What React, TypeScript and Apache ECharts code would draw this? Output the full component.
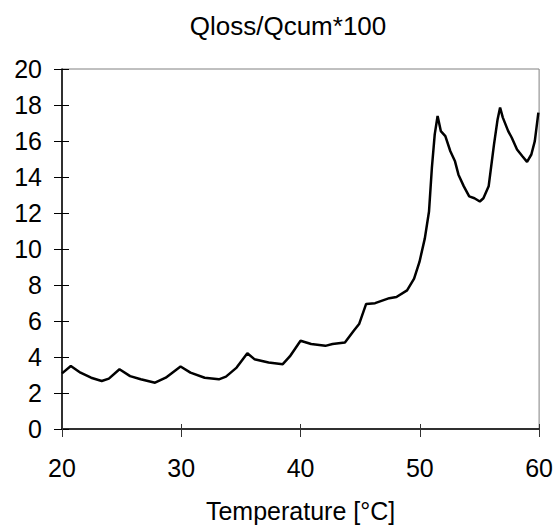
import React, { useEffect, useRef } from "react";
import * as echarts from "echarts";

const temperature = [20, 20.74, 21.55, 22.44, 23.33, 23.93, 24.82, 25.71, 26.6, 27.8, 28.7, 29.94, 30.77, 31.96, 33.15, 33.75, 34.64, 35.54, 36.13, 37.32, 38.51, 39.1, 40.0, 40.89, 42.08, 42.68, 43.72, 44.46, 44.91, 45.5, 46.25, 47.44, 48.04, 48.93, 49.52, 49.97, 50.42, 50.77, 51.01, 51.25, 51.49, 51.76, 52.14, 52.56, 52.95, 53.24, 53.69, 54.14, 54.58, 55.03, 55.33, 55.77, 56.22, 56.52, 56.73, 56.96, 57.41, 57.71, 58.15, 58.6, 58.99, 59.35, 59.64, 59.94];
const qloss = [3.09, 3.5, 3.13, 2.85, 2.67, 2.8, 3.32, 2.94, 2.76, 2.57, 2.85, 3.47, 3.13, 2.85, 2.76, 2.91, 3.41, 4.21, 3.88, 3.69, 3.6, 4.03, 4.9, 4.72, 4.62, 4.72, 4.81, 5.46, 5.83, 6.95, 6.99, 7.27, 7.33, 7.7, 8.35, 9.28, 10.59, 12.08, 14.5, 16.37, 17.39, 16.55, 16.27, 15.43, 14.87, 14.13, 13.48, 12.92, 12.82, 12.64, 12.82, 13.48, 15.81, 17.2, 17.86, 17.3, 16.55, 16.18, 15.53, 15.15, 14.84, 15.25, 15.99, 17.58];
const yTicks = [0, 2, 4, 6, 8, 10, 12, 14, 16, 18, 20];
const xTicks = [20, 30, 40, 50, 60];

export default function App() {
  const ref = useRef<HTMLDivElement>(null);
  useEffect(() => {
    if (!ref.current) return;
    const chart = echarts.init(ref.current, undefined, { renderer: "svg" });
    const font = "Liberation Sans, Arial, sans-serif";
    const data = temperature.map((t, i) => [t, qloss[i]]);
    const xBase = {
      type: "value" as const,
      min: xTicks[0],
      max: xTicks[xTicks.length - 1],
      interval: 10,
      splitLine: { show: false },
    };
    const yBase = {
      type: "value" as const,
      min: yTicks[0],
      max: yTicks[yTicks.length - 1],
      interval: 2,
      splitLine: { show: false },
    };
    chart.setOption({
      animation: false,
      backgroundColor: "#ffffff",
      title: {
        text: "Qloss/Qcum*100",
        left: 283,
        top: 8,
        textAlign: "center",
        textStyle: { fontFamily: font, fontSize: 26, fontWeight: "normal", color: "#000" },
      },
      grid: {
        left: 62,
        right: 16,
        top: 69,
        bottom: 98,
        show: true,
        borderColor: "#808080",
        borderWidth: 1,
        backgroundColor: "transparent",
      },
      xAxis: [
        {
          ...xBase,
          position: "bottom",
          name: "Temperature [°C]",
          nameLocation: "middle",
          nameGap: 69,
          nameTextStyle: { fontFamily: font, fontSize: 25, color: "#000" },
          axisLine: { show: true, lineStyle: { color: "#000", width: 1.5 } },
          axisTick: { show: true, inside: false, length: 8, lineStyle: { color: "#333", width: 1 } },
          axisLabel: { fontFamily: font, fontSize: 25, color: "#000", margin: 26 },
        },
        {
          ...xBase,
          position: "bottom",
          axisLine: { show: false },
          axisTick: { show: true, inside: true, length: 5, lineStyle: { color: "#333", width: 1 } },
          axisLabel: { show: false },
        },
      ],
      yAxis: [
        {
          ...yBase,
          position: "left",
          axisLine: { show: true, lineStyle: { color: "#000", width: 1.5 } },
          axisTick: { show: true, inside: false, length: 8, lineStyle: { color: "#000", width: 1 } },
          axisLabel: { fontFamily: font, fontSize: 25, color: "#000", margin: 20 },
        },
        {
          ...yBase,
          position: "left",
          axisLine: { show: false },
          axisTick: { show: true, inside: true, length: 7, lineStyle: { color: "#000", width: 1 } },
          axisLabel: { show: false },
        },
      ],
      series: [
        {
          type: "line",
          data,
          showSymbol: false,
          smooth: false,
          lineStyle: { color: "#000", width: 2.5 },
          xAxisIndex: 0,
          yAxisIndex: 0,
        },
      ],
    });
    return () => chart.dispose();
  }, []);
  return (
    <div
      ref={ref}
      style={{ position: "fixed", left: 0, top: 0, width: 556, height: 528 }}
    />
  );
}
